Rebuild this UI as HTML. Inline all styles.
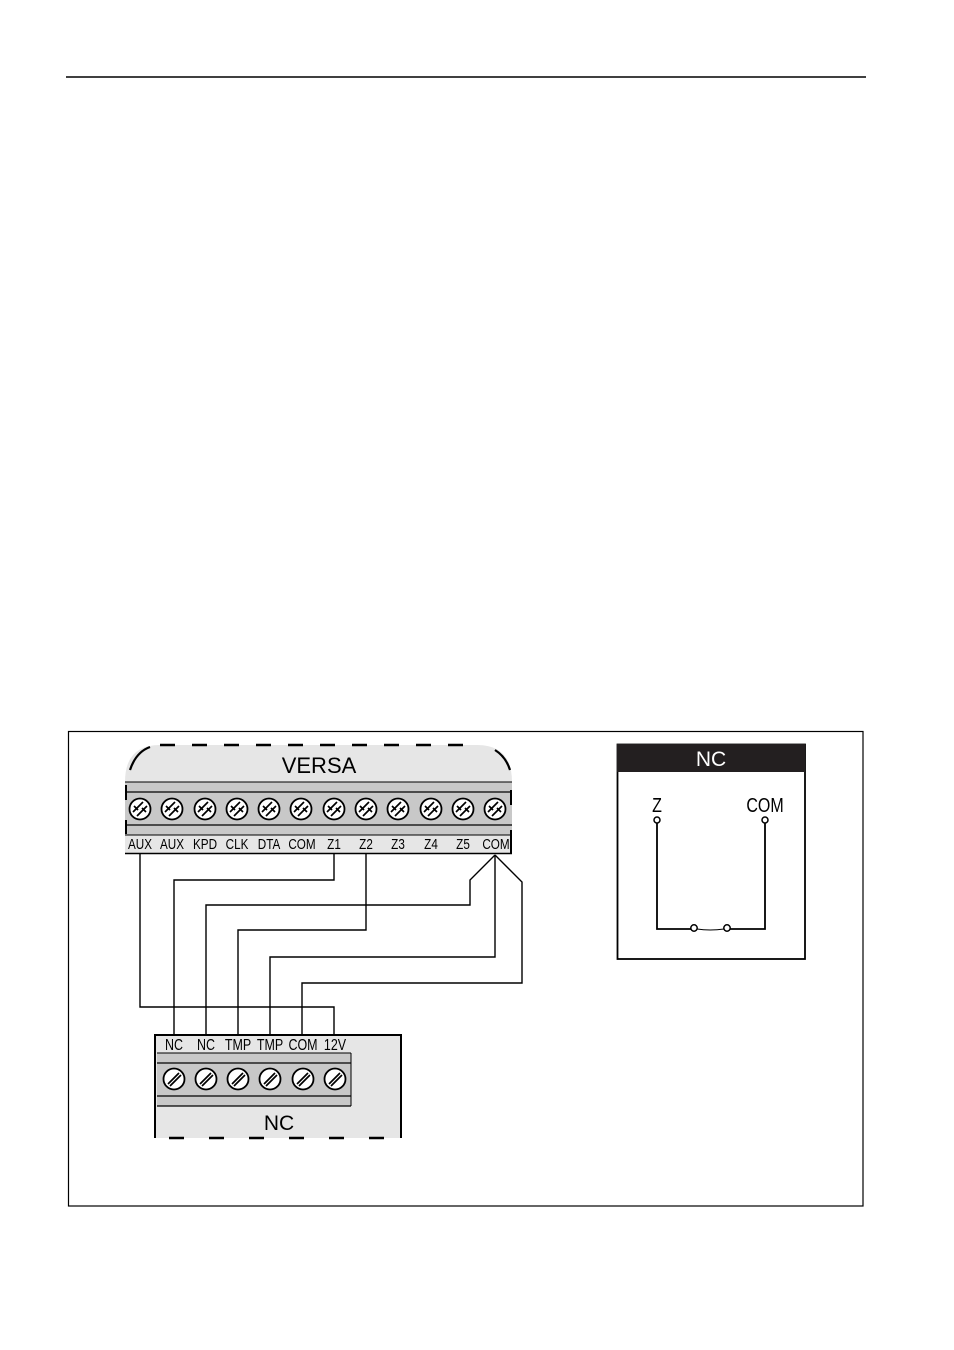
<!DOCTYPE html>
<html><head><meta charset="utf-8"><style>
html,body{margin:0;padding:0;background:#fff;}
svg{display:block;}
text{font-family:"Liberation Sans",sans-serif;}
</style></head><body>
<svg width="954" height="1350" viewBox="0 0 954 1350" xmlns="http://www.w3.org/2000/svg">
<defs>
<g id="xs">
<circle r="10.5" fill="#fff" stroke="#000" stroke-width="1.8"/>
<path d="M-7,3 L3,-7 M-3,7 L7,-3 M-6,-3 L-2,1 M2,-1 L6,3" stroke="#000" stroke-width="1.7" fill="none"/>
</g>
<g id="ss">
<circle r="10.5" fill="#fff" stroke="#000" stroke-width="1.8"/>
<path d="M-6,5 L5,-6 M-4,7 L7,-4" stroke="#000" stroke-width="1.7" fill="none"/>
</g>
</defs>
<line x1="66" y1="77" x2="866" y2="77" stroke="#000" stroke-width="1.5"/>
<rect x="68.5" y="731.5" width="794.5" height="474.5" fill="none" stroke="#000" stroke-width="1.2"/>

<!-- VERSA module -->
<path d="M125,854 L125,782 Q125,745 160,745 L477,745 Q512,745 512,782 L512,854 Z" fill="#e6e6e6"/>
<path d="M160,745 L477,745" stroke="#000" stroke-width="2.5" stroke-dasharray="15,17" fill="none"/>
<path d="M130,770 Q136,752 150,747" stroke="#000" stroke-width="2.2" fill="none"/>
<path d="M495,750 Q506,757 510,770" stroke="#000" stroke-width="2.2" fill="none"/>
<text x="319" y="773" font-size="22" text-anchor="middle">VERSA</text>
<rect x="125" y="782" width="387" height="53" fill="#c8c8c8"/>
<line x1="125" y1="782" x2="512" y2="782" stroke="#000" stroke-width="1"/>
<line x1="125" y1="792" x2="512" y2="792" stroke="#000" stroke-width="1.2"/>
<line x1="125" y1="825" x2="512" y2="825" stroke="#000" stroke-width="1.2"/>
<line x1="125" y1="835" x2="512" y2="835" stroke="#000" stroke-width="1"/>
<line x1="125" y1="853.5" x2="512" y2="853.5" stroke="#000" stroke-width="1.5"/>
<line x1="126" y1="785" x2="126" y2="800" stroke="#000" stroke-width="2"/>
<line x1="126" y1="820" x2="126" y2="834" stroke="#000" stroke-width="2"/>
<line x1="511" y1="790" x2="511" y2="805" stroke="#000" stroke-width="2"/>
<line x1="511" y1="830" x2="511" y2="853" stroke="#000" stroke-width="2"/>
<g>
<use href="#xs" x="140" y="809"/><use href="#xs" x="172" y="809"/><use href="#xs" x="205" y="809"/>
<use href="#xs" x="237" y="809"/><use href="#xs" x="269" y="809"/><use href="#xs" x="301" y="809"/>
<use href="#xs" x="334" y="809"/><use href="#xs" x="366" y="809"/><use href="#xs" x="398" y="809"/>
<use href="#xs" x="431" y="809"/><use href="#xs" x="463" y="809"/><use href="#xs" x="495" y="809"/>
</g>
<g font-size="15" text-anchor="middle">
<text transform="translate(140,849) scale(0.78,1)">AUX</text>
<text transform="translate(172,849) scale(0.78,1)">AUX</text>
<text transform="translate(205,849) scale(0.78,1)">KPD</text>
<text transform="translate(237,849) scale(0.78,1)">CLK</text>
<text transform="translate(269,849) scale(0.78,1)">DTA</text>
<text transform="translate(302,849) scale(0.78,1)">COM</text>
<text transform="translate(334,849) scale(0.78,1)">Z1</text>
<text transform="translate(366,849) scale(0.78,1)">Z2</text>
<text transform="translate(398,849) scale(0.78,1)">Z3</text>
<text transform="translate(431,849) scale(0.78,1)">Z4</text>
<text transform="translate(463,849) scale(0.78,1)">Z5</text>
<text transform="translate(496,849) scale(0.78,1)">COM</text>
</g>

<!-- wires -->
<g stroke="#000" stroke-width="1.4" fill="none">
<path d="M140,854 V1007 H334 V1035"/>
<path d="M334,854 V880 H174 V1035"/>
<path d="M495,855 L470,880 V905 H206 V1035"/>
<path d="M366,854 V930 H238 V1035"/>
<path d="M495,855 V957 H270 V1035"/>
<path d="M495,855 L522,882 V983 H302 V1035"/>
</g>

<!-- NC module -->
<rect x="155" y="1035" width="246" height="103" fill="#e6e6e6"/>
<path d="M155,1138 V1035 H401 V1138" stroke="#000" stroke-width="2" fill="none"/>
<path d="M169,1138 H401" stroke="#000" stroke-width="2.5" stroke-dasharray="15,25" fill="none"/>
<rect x="157" y="1053" width="194" height="53" fill="#c8c8c8"/>
<line x1="157" y1="1053" x2="351" y2="1053" stroke="#000" stroke-width="1"/>
<line x1="157" y1="1063" x2="351" y2="1063" stroke="#000" stroke-width="1.2"/>
<line x1="157" y1="1096" x2="351" y2="1096" stroke="#000" stroke-width="1.2"/>
<line x1="157" y1="1106" x2="351" y2="1106" stroke="#000" stroke-width="1.2"/>
<line x1="351" y1="1053" x2="351" y2="1106" stroke="#000" stroke-width="1"/>
<use href="#ss" x="174" y="1079"/><use href="#ss" x="206" y="1079"/><use href="#ss" x="238" y="1079"/>
<use href="#ss" x="270" y="1079"/><use href="#ss" x="303" y="1079"/><use href="#ss" x="335" y="1079"/>
<g font-size="16" text-anchor="middle">
<text transform="translate(174,1050) scale(0.78,1)">NC</text>
<text transform="translate(206,1050) scale(0.78,1)">NC</text>
<text transform="translate(238,1050) scale(0.78,1)">TMP</text>
<text transform="translate(270,1050) scale(0.78,1)">TMP</text>
<text transform="translate(303,1050) scale(0.78,1)">COM</text>
<text transform="translate(335,1050) scale(0.78,1)">12V</text>
</g>
<text x="279" y="1130" font-size="21" text-anchor="middle">NC</text>

<!-- right NC box -->
<rect x="617.5" y="744.5" width="187.5" height="214.5" fill="#fff" stroke="#000" stroke-width="1.8"/>
<rect x="617" y="744" width="188" height="28" fill="#231f20"/>
<text x="711" y="766" font-size="21" fill="#fff" text-anchor="middle">NC</text>
<text transform="translate(657,812) scale(0.8,1)" font-size="20" text-anchor="middle">Z</text>
<text transform="translate(765,812) scale(0.8,1)" font-size="20" text-anchor="middle">COM</text>
<g stroke="#000" stroke-width="1.8" fill="none">
<path d="M657,823 V929 H691"/>
<path d="M765,823 V929 H730"/>
<path d="M697,929 Q710,931 724,929" stroke-width="1"/>
</g>
<g fill="#fff" stroke="#000" stroke-width="1.5">
<circle cx="657" cy="820" r="3"/><circle cx="765" cy="820" r="3"/>
<circle cx="694" cy="928" r="3.2"/><circle cx="727" cy="928" r="3.2"/>
</g>
</svg>
</body></html>
